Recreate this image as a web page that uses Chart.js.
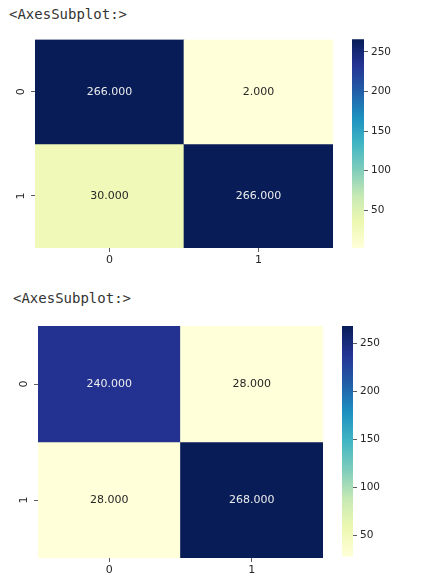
<!DOCTYPE html>
<html>
<head>
<meta charset="utf-8">
<script src="https://cdn.jsdelivr.net/npm/chart.js@4/dist/chart.umd.min.js"></script>
<style>
  body { margin: 0; background: #fff; width: 429px; height: 584px; position: relative; overflow: hidden; }
  .box { position: absolute; }
  .title { position: absolute; font-family: "DejaVu Sans Mono", monospace; font-size: 14px; color: #333; }
</style>
</head>
<body>
<div class="title" style="left:9px; top:6px;">&lt;AxesSubplot:&gt;</div>
<div class="box" style="left:0px; top:30px; width:340px; height:245px;"><canvas id="heatA"></canvas></div>
<div class="box" style="left:352px; top:30px; width:50px; height:230px;"><canvas id="barA"></canvas></div>

<div class="title" style="left:13px; top:290px;">&lt;AxesSubplot:&gt;</div>
<div class="box" style="left:0px; top:316px; width:330px; height:268px;"><canvas id="heatB"></canvas></div>
<div class="box" style="left:342px; top:316px; width:50px; height:250px;"><canvas id="barB"></canvas></div>

<script>
// categories
const xLabels = ['0', '1'];
const yLabels = ['0', '1'];

// matrix values, row by row
const matrixA = [[266, 2], [30, 266]];
const matrixB = [[240, 28], [28, 268]];

// colorbar ticks
const cbTicksA = [50, 100, 150, 200, 250];
const cbTicksB = [50, 100, 150, 200, 250];

// YlGnBu colormap stops
const ylGnBu = ['#ffffd9', '#edf8b1', '#c7e9b4', '#7fcdbb', '#41b6c4', '#1d91c0', '#225ea8', '#253494', '#081d58'];

function hexToRgb(h) {
  return [parseInt(h.substr(1, 2), 16), parseInt(h.substr(3, 2), 16), parseInt(h.substr(5, 2), 16)];
}

function cmapRgb(t) {
  t = Math.max(0, Math.min(1, t));
  let p = t * (ylGnBu.length - 1);
  let i = Math.min(Math.floor(p), ylGnBu.length - 2);
  let f = p - i;
  let a = hexToRgb(ylGnBu[i]), b = hexToRgb(ylGnBu[i + 1]);
  return a.map((c, k) => Math.round(c + (b[k] - c) * f));
}

function luminance(rgb) {
  let c = rgb.map(v => {
    v = v / 255;
    return v <= 0.03928 ? v / 12.92 : Math.pow((v + 0.055) / 1.055, 2.4);
  });
  return 0.2126 * c[0] + 0.7152 * c[1] + 0.0722 * c[2];
}

function matMin(m) { return Math.min(...m.flat()); }
function matMax(m) { return Math.max(...m.flat()); }

const tickFont = { family: 'DejaVu Sans', size: 11 };

// draws the value text in each cell and the rotated y labels
const cellTextPlugin = {
  id: 'cellText',
  afterDatasetsDraw(chart) {
    const ctx = chart.ctx;
    const m = chart.options.plugins.cellText.matrix;
    const vmin = matMin(m), vmax = matMax(m);
    ctx.save();
    ctx.font = '11px "DejaVu Sans"';
    ctx.textAlign = 'center';
    ctx.textBaseline = 'middle';
    chart.data.datasets.forEach((ds, i) => {
      chart.getDatasetMeta(i).data.forEach((el, j) => {
        let v = m[i][j];
        let rgb = cmapRgb((v - vmin) / (vmax - vmin));
        ctx.fillStyle = luminance(rgb) > 0.408 ? '#262626' : '#ececec';
        ctx.fillText(v.toFixed(3), el.x, (el.y + el.base) / 2);
      });
    });
    // y labels, turned like matplotlib does
    const ys = chart.scales.y;
    ctx.fillStyle = '#262626';
    ctx.font = '11px "DejaVu Sans"';
    ys.ticks.forEach((t, k) => {
      ctx.save();
      ctx.translate(chart.chartArea.left - 14, ys.getPixelForValue(t.value));
      ctx.rotate(-Math.PI / 2);
      ctx.fillText(yLabels[k], 0, 0);
      ctx.restore();
    });
    ctx.restore();
  }
};

function makeHeatmap(id, matrix, pad, yWidth, xHeight) {
  const vmin = matMin(matrix), vmax = matMax(matrix);
  const datasets = matrix.map((row, i) => ({
    data: row.map(() => [i, i + 1]),
    backgroundColor: row.map(v => 'rgb(' + cmapRgb((v - vmin) / (vmax - vmin)).join(',') + ')'),
    borderWidth: 0,
    grouped: false,
    barPercentage: 1,
    categoryPercentage: 1
  }));
  new Chart(document.getElementById(id), {
    type: 'bar',
    data: { labels: xLabels, datasets },
    plugins: [cellTextPlugin],
    options: {
      animation: false,
      responsive: true,
      maintainAspectRatio: false,
      layout: { padding: pad },
      plugins: { legend: { display: false }, tooltip: { enabled: false }, cellText: { matrix } },
      scales: {
        x: {
          grid: { offset: false, drawOnChartArea: false, tickLength: 4, color: '#333', tickWidth: 0.8 },
          border: { display: false },
          ticks: { font: tickFont, color: '#262626', padding: 2 },
          afterFit(s) { s.height = xHeight; }
        },
        y: {
          type: 'linear',
          min: 0,
          max: yLabels.length,
          reverse: true,
          grid: { drawOnChartArea: false, tickLength: 4, color: '#333', tickWidth: 0.8 },
          border: { display: false },
          ticks: { color: 'rgba(0,0,0,0)', font: tickFont },
          afterBuildTicks(s) { s.ticks = yLabels.map((_, k) => ({ value: k + 0.5 })); },
          afterFit(s) { s.width = yWidth; }
        }
      }
    }
  });
}

function makeColorbar(id, matrix, tickVals, pad, yWidth) {
  const vmin = matMin(matrix), vmax = matMax(matrix);
  new Chart(document.getElementById(id), {
    type: 'bar',
    data: {
      labels: [''],
      datasets: [{
        data: [[vmin, vmax]],
        borderWidth: 0,
        barPercentage: 1,
        categoryPercentage: 1,
        backgroundColor(c) {
          const area = c.chart.chartArea;
          if (!area) return ylGnBu[4];
          const g = c.chart.ctx.createLinearGradient(0, area.bottom, 0, area.top);
          ylGnBu.forEach((col, k) => g.addColorStop(k / (ylGnBu.length - 1), col));
          return g;
        }
      }]
    },
    options: {
      animation: false,
      responsive: true,
      maintainAspectRatio: false,
      layout: { padding: pad },
      plugins: { legend: { display: false }, tooltip: { enabled: false } },
      scales: {
        x: { display: false },
        y: {
          position: 'right',
          min: vmin,
          max: vmax,
          grid: { drawOnChartArea: false, tickLength: 4, color: '#333', tickWidth: 0.8 },
          border: { display: false },
          ticks: { font: { family: 'DejaVu Sans', size: 10.5 }, color: '#262626', padding: 3 },
          afterBuildTicks(s) { s.ticks = tickVals.map(v => ({ value: v })); },
          afterFit(s) { s.width = yWidth; }
        }
      }
    }
  });
}

makeHeatmap('heatA', matrixA, { top: 9, right: 7, left: 0, bottom: 0 }, 35, 27);
makeColorbar('barA', matrixA, cbTicksA, { top: 9, bottom: 12, left: 0, right: 0 }, 38);

makeHeatmap('heatB', matrixB, { top: 10, right: 7, left: 0, bottom: 0 }, 38, 26);
makeColorbar('barB', matrixB, cbTicksB, { top: 10, bottom: 8, left: 0, right: 0 }, 39);
</script>
</body>
</html>
